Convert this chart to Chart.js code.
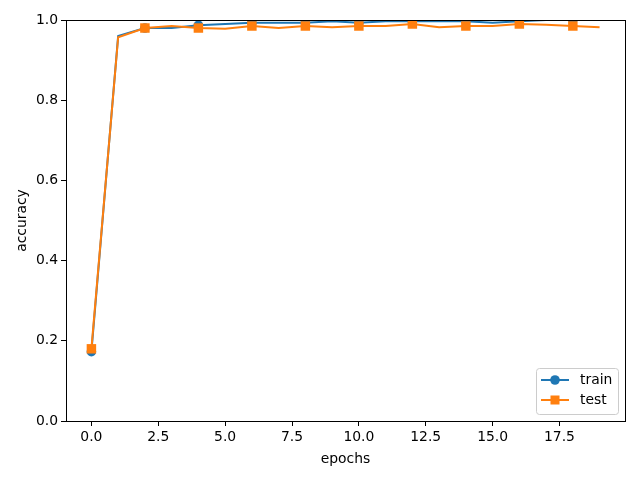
<!DOCTYPE html>
<html>
<head>
<meta charset="utf-8">
<script src="https://cdn.jsdelivr.net/npm/chart.js@4"></script>
<style>
  html, body { margin: 0; padding: 0; background: #fff; }
  #wrap { width: 640px; height: 480px; }
</style>
</head>
<body>
<div id="wrap"><canvas id="accChart" width="640" height="480"></canvas></div>
<script>
// epochs and accuracy per epoch
const epochs = [0,1,2,3,4,5,6,7,8,9,10,11,12,13,14,15,16,17,18,19];
const trainAcc = [0.173,0.960,0.980,0.980,0.987,0.990,0.993,0.993,0.993,0.997,0.993,0.997,0.997,0.997,0.997,0.993,0.997,1.000,1.000,1.000];
const testAcc  = [0.180,0.957,0.980,0.985,0.980,0.978,0.985,0.980,0.985,0.982,0.985,0.985,0.990,0.982,0.985,0.985,0.990,0.988,0.985,0.982];
const xTicks = [0,2.5,5,7.5,10,12.5,15,17.5];
const yTicks = [0,0.2,0.4,0.6,0.8,1.0];

const FONT = 'DejaVu Sans';
const BLUE = '#1f77b4', ORANGE = '#ff7f0e';

// full box around the plot area, like matplotlib spines
const framePlugin = {
  id: 'frame',
  afterDatasetsDraw(chart) {
    const { ctx, chartArea: a } = chart;
    ctx.save();
    ctx.strokeStyle = '#000';
    ctx.lineWidth = 1;
    ctx.strokeRect(Math.round(a.left) + 0.5, Math.round(a.top) + 0.5,
                   Math.round(a.right - a.left), Math.round(a.bottom - a.top));
    ctx.restore();
  }
};

// legend box in the lower right corner of the axes
const legendPlugin = {
  id: 'boxLegend',
  afterDraw(chart) {
    const { ctx, chartArea: a } = chart;
    const w = 82, h = 46;
    const x = a.right - 7 - w, y = a.bottom - 7 - h;
    ctx.save();
    ctx.fillStyle = 'rgba(255,255,255,0.8)';
    ctx.strokeStyle = '#cccccc';
    ctx.lineWidth = 1;
    ctx.beginPath();
    ctx.roundRect(x + 0.5, y + 0.5, w, h, 3);
    ctx.fill();
    ctx.stroke();
    const items = [
      { label: 'train', color: BLUE, shape: 'circle' },
      { label: 'test', color: ORANGE, shape: 'square' }
    ];
    items.forEach((it, i) => {
      const cy = y + 12 + i * 20;
      ctx.strokeStyle = it.color;
      ctx.lineWidth = 2;
      ctx.beginPath();
      ctx.moveTo(x + 5, cy);
      ctx.lineTo(x + 33, cy);
      ctx.stroke();
      ctx.fillStyle = it.color;
      if (it.shape === 'circle') {
        ctx.beginPath();
        ctx.arc(x + 19, cy, 4.8, 0, Math.PI * 2);
        ctx.fill();
      } else {
        ctx.fillRect(x + 14.5, cy - 4.5, 9, 9);
      }
      ctx.fillStyle = '#000';
      ctx.font = '13.9px "' + FONT + '"';
      ctx.textBaseline = 'middle';
      ctx.fillText(it.label, x + 44, cy);
    });
    ctx.restore();
  }
};

new Chart(document.getElementById('accChart'), {
  type: 'line',
  data: {
    datasets: [
      {
        label: 'train',
        order: 1,
        data: epochs.map((e, i) => ({ x: e, y: trainAcc[i] })),
        borderColor: BLUE, backgroundColor: BLUE,
        borderWidth: 2, pointStyle: 'circle',
        pointRadius: ctx => (ctx.dataIndex % 2 === 0 ? 4.8 : 0),
        pointBorderWidth: 0, pointHoverRadius: 0
      },
      {
        label: 'test',
        order: 0,
        data: epochs.map((e, i) => ({ x: e, y: testAcc[i] })),
        borderColor: ORANGE, backgroundColor: ORANGE,
        borderWidth: 2, pointStyle: 'rect',
        pointRadius: ctx => (ctx.dataIndex % 2 === 0 ? 6.7 : 0),
        pointBorderWidth: 0, pointHoverRadius: 0
      }
    ]
  },
  options: {
    responsive: false,
    animation: false,
    events: [],
    layout: { padding: { top: 20, right: 15, left: 0, bottom: 0 } },
    plugins: { legend: { display: false }, tooltip: { enabled: false } },
    scales: {
      x: {
        type: 'linear', min: -0.95, max: 19.95,
        afterBuildTicks: s => { s.ticks = xTicks.map(v => ({ value: v })); },
        afterFit: s => { s.height = 59; },
        grid: { drawOnChartArea: false, tickLength: 5, tickColor: '#000', color: '#000' },
        border: { display: false },
        ticks: { color: '#000', padding: 3, maxRotation: 0, font: { family: FONT, size: 13.9 },
                 callback: v => Number(v).toFixed(1) },
        title: { display: true, text: 'epochs', color: '#000', font: { family: FONT, size: 13.9 },
                 padding: { top: 2, bottom: 12 } }
      },
      y: {
        min: 0, max: 1,
        afterBuildTicks: s => { s.ticks = yTicks.map(v => ({ value: v })); },
        afterFit: s => { s.width = 66; },
        grid: { drawOnChartArea: false, tickLength: 5, tickColor: '#000', color: '#000' },
        border: { display: false },
        ticks: { color: '#000', padding: 3, font: { family: FONT, size: 13.9 },
                 callback: v => Number(v).toFixed(1) },
        title: { display: true, text: 'accuracy', color: '#000', font: { family: FONT, size: 13.9 },
                 padding: { top: 14, bottom: 0 } }
      }
    }
  },
  plugins: [framePlugin, legendPlugin]
});
</script>
</body>
</html>
